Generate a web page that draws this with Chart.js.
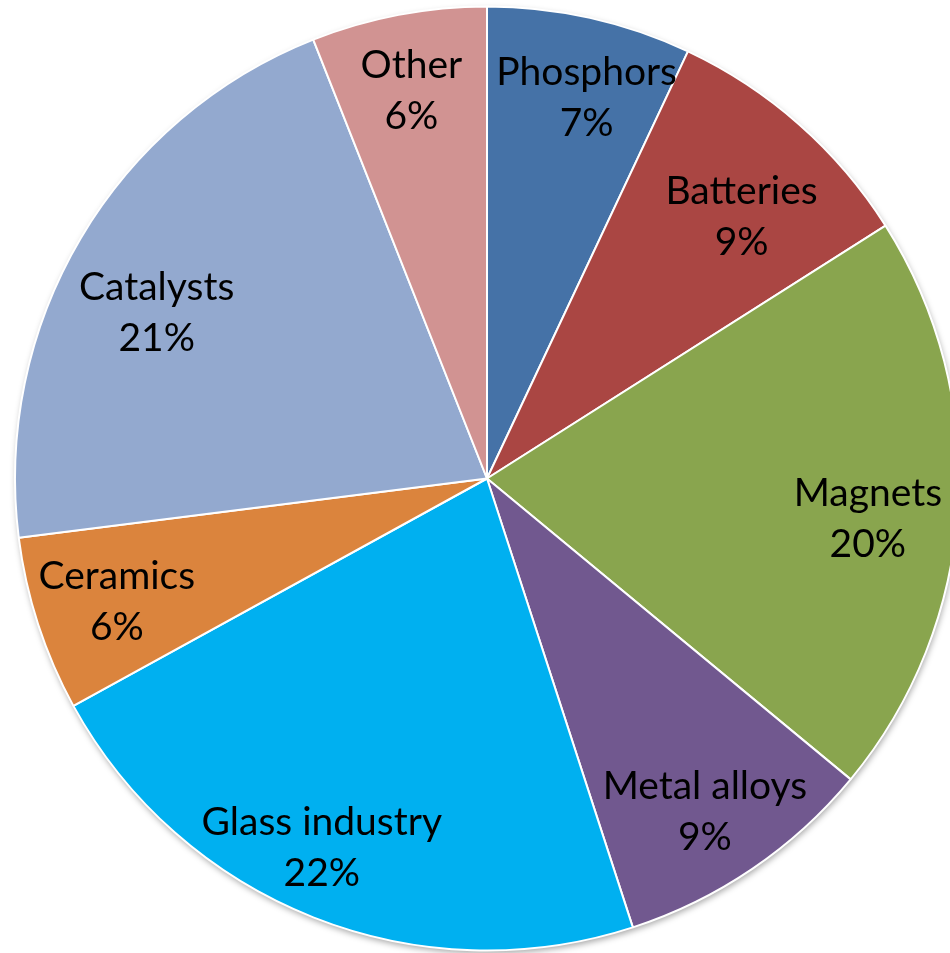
<!DOCTYPE html>
<html>
<head>
<meta charset="utf-8">
<script src="https://cdn.jsdelivr.net/npm/chart.js@4.4.1/dist/chart.umd.min.js"></script>
<style>
  html, body { margin: 0; padding: 0; background: #fff; overflow: hidden; width: 950px; height: 953px; }
  #wrap { position: absolute; left: 0; top: 0; }
</style>
</head>
<body>
<div id="wrap"><canvas id="pie" width="974" height="957"></canvas></div>
<script>
const categories = ['Phosphors', 'Batteries', 'Magnets', 'Metal alloys', 'Glass industry', 'Ceramics', 'Catalysts', 'Other'];
const shares = [7, 9, 20, 9, 22, 6, 21, 6];
const sliceColors = ['#4572A7', '#AA4643', '#89A54E', '#71588F', '#00B0F0', '#DB843D', '#93A9CF', '#D19392'];

// label placement inside each slice (fraction of radius, angle nudge in degrees)
const labelRadius = [0.837, 0.775, 0.811, 0.841, 0.854, 0.826, 0.784, 0.839];
const labelNudge = [2, 2.7, 2.2, 0.9, 2.6, -0.3, -3.8, -0.2];

// soft shadow under the whole pie
const pieShadow = {
  id: 'pieShadow',
  beforeDatasetsDraw(chart) {
    const arc = chart.getDatasetMeta(0).data[0];
    if (!arc) return;
    const ctx = chart.ctx;
    ctx.save();
    ctx.shadowColor = 'rgba(0,0,0,0.35)';
    ctx.shadowBlur = 6;
    ctx.shadowOffsetY = 3;
    ctx.shadowOffsetX = 1;
    ctx.beginPath();
    ctx.arc(arc.x, arc.y, arc.outerRadius, 0, Math.PI * 2);
    ctx.fillStyle = '#fff';
    ctx.fill();
    ctx.restore();
  }
};

// category name + percent inside each slice
const sliceLabels = {
  id: 'sliceLabels',
  afterDatasetsDraw(chart) {
    const ctx = chart.ctx;
    const meta = chart.getDatasetMeta(0);
    const total = shares.reduce((a, b) => a + b, 0);
    ctx.save();
    ctx.fillStyle = '#000';
    ctx.font = '39px Lato, "Open Sans", sans-serif';
    ctx.textAlign = 'center';
    ctx.textBaseline = 'alphabetic';
    meta.data.forEach((arc, i) => {
      const mid = (arc.startAngle + arc.endAngle) / 2 + labelNudge[i] * Math.PI / 180;
      const r = arc.outerRadius * labelRadius[i];
      const x = arc.x + Math.cos(mid) * r;
      const y = arc.y + Math.sin(mid) * r;
      ctx.fillText(categories[i], x, y - 11.5);
      ctx.fillText(Math.round(shares[i] / total * 100) + '%', x, y + 39.5);
    });
    ctx.restore();
  }
};

new Chart(document.getElementById('pie'), {
  type: 'pie',
  data: {
    labels: categories,
    datasets: [{
      data: shares,
      backgroundColor: sliceColors,
      borderColor: '#fff',
      borderWidth: 2,
      radius: 472
    }]
  },
  options: {
    responsive: false,
    animation: false,
    layout: { padding: 0 },
    plugins: {
      legend: { display: false },
      tooltip: { enabled: false }
    }
  },
  plugins: [pieShadow, sliceLabels]
});
</script>
</body>
</html>
